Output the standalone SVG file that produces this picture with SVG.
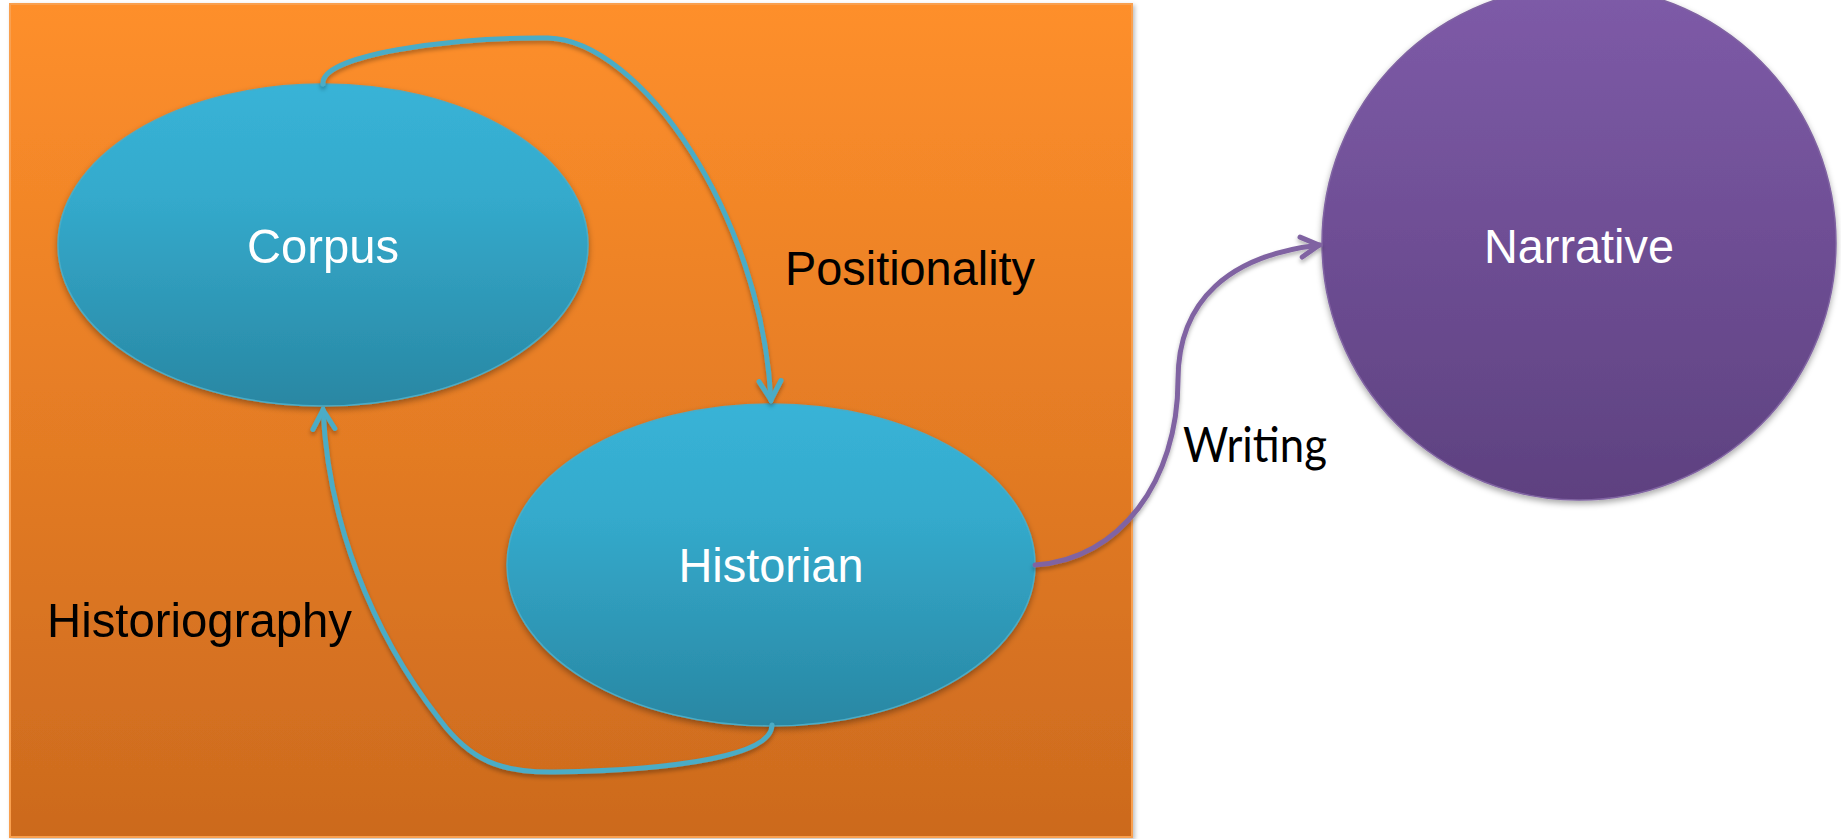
<svg xmlns="http://www.w3.org/2000/svg" width="1841" height="839" viewBox="0 0 1841 839">
  <defs>
    <linearGradient id="gOrange" x1="0" y1="0" x2="0" y2="1">
      <stop offset="0" stop-color="#FE8F2B"/>
      <stop offset="1" stop-color="#CC6A1E"/>
    </linearGradient>
    <linearGradient id="gBlue" x1="0" y1="0" x2="0" y2="1">
      <stop offset="0" stop-color="#38B3D7"/>
      <stop offset="0.35" stop-color="#34AACC"/>
      <stop offset="1" stop-color="#2987A3"/>
    </linearGradient>
    <linearGradient id="gPurple" x1="0" y1="0" x2="0" y2="1">
      <stop offset="0" stop-color="#7E5BA8"/>
      <stop offset="1" stop-color="#5E4180"/>
    </linearGradient>
    <filter id="shadow" x="-10%" y="-10%" width="120%" height="125%">
      <feDropShadow dx="0" dy="3" stdDeviation="3" flood-color="#000" flood-opacity="0.35"/>
    </filter>
    <filter id="lineShadow" x="-10%" y="-10%" width="120%" height="120%">
      <feDropShadow dx="0" dy="3" stdDeviation="2" flood-color="#000" flood-opacity="0.3"/>
    </filter>
    <filter id="rectShadow" x="-5%" y="-5%" width="110%" height="110%">
      <feDropShadow dx="2" dy="2" stdDeviation="2" flood-color="#000" flood-opacity="0.25"/>
    </filter>
    <marker id="arrBlue" markerUnits="userSpaceOnUse" viewBox="0 0 28 28" markerWidth="28" markerHeight="28" refX="23" refY="14" orient="auto">
      <path d="M3,3 L22,14 L3,25" fill="none" stroke="#4BACC6" stroke-width="5" stroke-linecap="round" stroke-linejoin="round"/>
    </marker>
    <marker id="arrPurple" markerUnits="userSpaceOnUse" viewBox="0 0 28 28" markerWidth="28" markerHeight="28" refX="23" refY="14" orient="auto">
      <path d="M4,4 L22,14 L4,24" fill="none" stroke="#8064A2" stroke-width="5" stroke-linecap="round" stroke-linejoin="round"/>
    </marker>
    <style>
      .node-label { font-family: "Liberation Sans", Arial, sans-serif; font-size: 49px; fill: #FFFFFF; text-anchor: middle; }
      .edge-label { font-family: "Liberation Sans", Arial, sans-serif; font-size: 49px; fill: #000000; }
      .edge-blue { fill: none; stroke: #4BACC6; stroke-width: 5; stroke-linecap: round; filter: url(#lineShadow); }
      .edge-purple { fill: none; stroke: #8064A2; stroke-width: 5; stroke-linecap: round; filter: url(#lineShadow); }
      .ell { fill: url(#gBlue); stroke: #4BACC6; stroke-width: 1.5; filter: url(#shadow); }
    </style>
  </defs>

  <rect width="1841" height="839" fill="#FFFFFF"/>

  <g id="frame">
    <rect x="10" y="4" width="1122" height="833" fill="url(#gOrange)" stroke="#F9A050" stroke-width="2" filter="url(#rectShadow)"/>
  </g>

  <g id="node-corpus">
    <ellipse class="ell" cx="323" cy="245" rx="265" ry="161"/>
    <text class="node-label" x="323" y="263" textLength="152" lengthAdjust="spacingAndGlyphs">Corpus</text>
  </g>

  <g id="node-historian">
    <ellipse class="ell" cx="771" cy="565" rx="264" ry="161"/>
    <text class="node-label" x="771" y="582" textLength="185" lengthAdjust="spacingAndGlyphs">Historian</text>
  </g>

  <g id="node-narrative">
    <circle cx="1579" cy="243" r="257" fill="url(#gPurple)" stroke="#8064A2" stroke-width="1.5" filter="url(#shadow)"/>
    <text class="node-label" x="1579" y="263" textLength="190" lengthAdjust="spacingAndGlyphs">Narrative</text>
  </g>

  <g id="connectors">
    <path class="edge-blue" d="M323,84 C320,55 450,37 548,38 C640,40 762,215 771,401" marker-end="url(#arrBlue)"/>
    <path class="edge-blue" d="M772,725 C772,755 680,770 555,772 C500,773 470,760 440,720 C370,630 328,520 323,409" marker-end="url(#arrBlue)"/>
    <path class="edge-purple" d="M1035,565 C1120,560 1178,480 1178,380 C1178,300 1230,255 1320,245" marker-end="url(#arrPurple)"/>
  </g>

  <g id="labels">
    <text class="edge-label" x="785" y="285" textLength="250" lengthAdjust="spacingAndGlyphs">Positionality</text>
    <text class="edge-label" x="47" y="637" textLength="305" lengthAdjust="spacingAndGlyphs">Historiography</text>
    <text class="edge-label" x="1183" y="462" style="font-family: Lato, 'Noto Sans', sans-serif; font-size: 49px;" textLength="144" lengthAdjust="spacingAndGlyphs">Writing</text>
  </g>
</svg>
